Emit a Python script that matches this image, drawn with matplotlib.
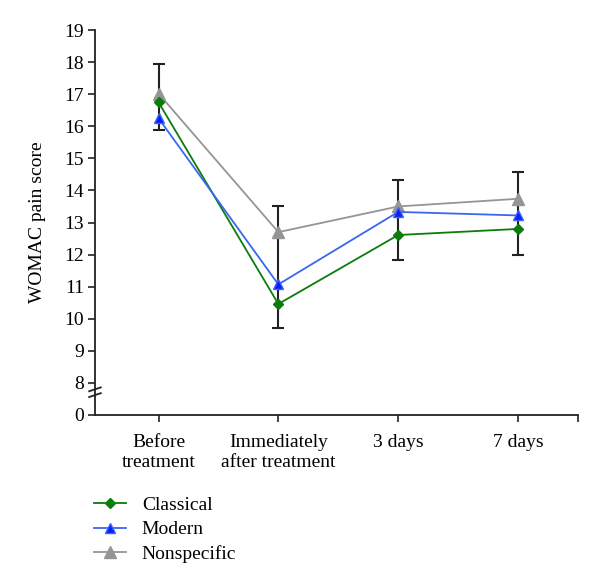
import matplotlib
matplotlib.use("Agg")
import matplotlib.pyplot as plt
import numpy as np

plt.rcParams['font.family'] = ['Liberation Serif', 'DejaVu Serif']

categories = ["Before\ntreatment", "Immediately\nafter treatment", "3 days", "7 days"]
classical = [16.75, 10.46, 12.61, 12.80]
modern = [16.25, 11.07, 13.33, 13.22]
nonspecific = [17.02, 12.70, 13.50, 13.74]
nonspecific_err_up = [0.91, 0.82, 0.82, 0.83]
classical_err_down = [0.87, 0.76, 0.78, 0.80]

y_ticks = [7, 8, 9, 10, 11, 12, 13, 14, 15, 16, 17, 18, 19]
y_ticklabels = ["0", "8", "9", "10", "11", "12", "13", "14", "15", "16", "17", "18", "19"]

fig = plt.figure(figsize=(6.0, 5.84), dpi=100)
ax = fig.add_axes([0.1583, 0.2894, 0.805, 0.6592])

x = np.arange(len(categories))

# error bars (Nonspecific upper, Classical lower)
lo = np.array(classical) - np.array(classical_err_down)
hi = np.array(nonspecific) + np.array(nonspecific_err_up)
ax.vlines(x, lo, hi, color='#222222', lw=1.5, zorder=1)
ax.plot(x, lo, ls='none', marker='_', ms=9, mew=1.5, color='#222222', zorder=1)
ax.plot(x, hi, ls='none', marker='_', ms=9, mew=1.5, color='#222222', zorder=1)

l1, = ax.plot(x, classical, color='#0a7d0a', lw=1.3, marker='D', ms=5.5,
              mfc='#0a7d0a', mec='#0a7d0a', zorder=3, label='Classical')
l2, = ax.plot(x, modern, color='#3a66f0', lw=1.3, marker='^', ms=7,
              mfc='#0a1eff', mec='#3a66f0', zorder=3, label='Modern')
l3, = ax.plot(x, nonspecific, color='#959595', lw=1.3, marker='^', ms=8,
              mfc='#959595', mec='#959595', zorder=2, label='Nonspecific')

ax.set_xlim(-0.53, 3.5)
ax.set_ylim(7, 19)
ax.set_yticks(y_ticks)
ax.set_yticklabels(y_ticklabels, fontsize=14)
ax.set_xticks(list(x) + [3.5])
ax.set_xticklabels(categories + [""], fontsize=14, linespacing=1.2)
ax.tick_params(axis='both', direction='out', length=5, width=1.2, color='#222222')
ax.tick_params(axis='y', pad=3)
ax.tick_params(axis='x', pad=9)

for s in ['top', 'right']:
    ax.spines[s].set_visible(False)
for s in ['left', 'bottom']:
    ax.spines[s].set_linewidth(1.3)
    ax.spines[s].set_color('#222222')

ax.set_ylabel("WOMAC pain score", fontsize=14, labelpad=13)

# axis break marks
trans = ax.get_yaxis_transform()
for yc in [7.80, 7.62]:
    ax.plot([-0.012, 0.012], [yc - 0.06, yc + 0.06], transform=trans,
            color='#222222', lw=1.3, clip_on=False, zorder=5)

fig.legend(handles=[l1, l2, l3], loc='upper left', bbox_to_anchor=(0.157, 0.150),
           frameon=False, fontsize=14, handlelength=1.65, handletextpad=0.8,
           labelspacing=0.35, borderpad=0, borderaxespad=0)

fig.savefig("out.png", dpi=100)
